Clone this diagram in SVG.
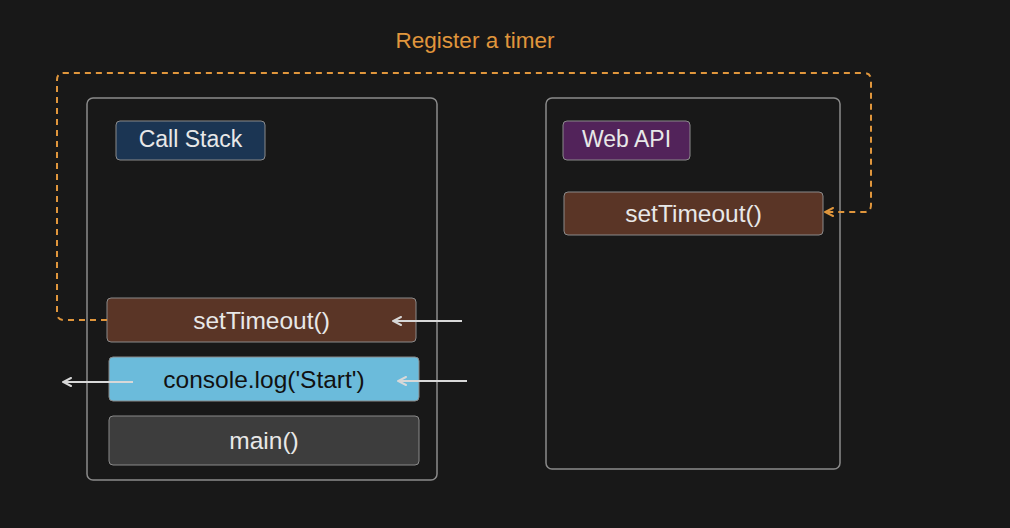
<svg xmlns="http://www.w3.org/2000/svg" width="1010" height="528" viewBox="0 0 1010 528">
<defs>
<style>
.container{fill:none;stroke:#8a8a8a;stroke-width:1.5}
.node{stroke:#8a8a8a;stroke-width:1}
.t{font-family:"Liberation Sans",Arial,sans-serif;font-size:24.5px;text-anchor:middle;dominant-baseline:central;fill:#e8e8e8}
.lbl{font-size:23px}
.dash{fill:none;stroke:#e0963c;stroke-width:2;stroke-dasharray:6 5}
.arr{fill:none;stroke:#d8d8d8;stroke-width:2}
</style>
<marker id="ah" viewBox="0 0 10 10" refX="9" refY="5" markerWidth="10" markerHeight="10" markerUnits="userSpaceOnUse" orient="auto">
<path d="M1 1 L9 5 L1 9" fill="none" stroke="#d8d8d8" stroke-width="2" stroke-linecap="round"/>
</marker>
<marker id="ao" viewBox="0 0 10 10" refX="9" refY="5" markerWidth="10" markerHeight="10" markerUnits="userSpaceOnUse" orient="auto">
<path d="M1 1 L9 5 L1 9" fill="none" stroke="#e0963c" stroke-width="2" stroke-linecap="round"/>
</marker>
</defs>
<rect width="1010" height="528" fill="#181818"/>
<g id="call-stack-container">
<rect class="container" x="87" y="98" width="350" height="382" rx="6"/>
</g>
<g id="web-api-container">
<rect class="container" x="546" y="98" width="294" height="371" rx="6"/>
</g>
<g id="call-stack-label">
<rect class="node" x="116" y="121" width="149" height="39" rx="4" fill="#1b3553"/>
<text class="t lbl" x="190.5" y="139">Call Stack</text>
</g>
<g id="web-api-label">
<rect class="node" x="563" y="121" width="127" height="39" rx="4" fill="#52235a"/>
<text class="t lbl" x="626.5" y="139">Web API</text>
</g>
<g id="webapi-settimeout">
<rect class="node" x="564" y="192" width="259" height="43" rx="4" fill="#5a3526"/>
<text class="t" x="693.5" y="213">setTimeout()</text>
</g>
<g id="stack-settimeout">
<rect class="node" x="107" y="298" width="309" height="44" rx="4" fill="#5a3526"/>
<text class="t" x="261.5" y="320">setTimeout()</text>
</g>
<g id="console-log">
<rect class="node" x="109" y="357" width="310" height="44" rx="4" fill="#6bbbdb"/>
<text class="t" x="264" y="379" style="fill:#111111">console.log('Start')</text>
</g>
<g id="main">
<rect class="node" x="109" y="416" width="310" height="49" rx="4" fill="#3d3d3d"/>
<text class="t" x="264" y="440">main()</text>
</g>
<g id="connectors">
<path class="dash" d="M107 320 H64 Q57 320 57 313 V80 Q57 73 64 73 H864 Q871 73 871 80 V205 Q871 212 864 212 H825" marker-end="url(#ao)"/>
<text x="475" y="40" style="font-family:'Liberation Sans',Arial,sans-serif;font-size:22.5px;text-anchor:middle;dominant-baseline:central;fill:#e0963c">Register a timer</text>
<line class="arr" x1="462" y1="321" x2="393" y2="321" marker-end="url(#ah)"/>
<line class="arr" x1="467" y1="381" x2="398" y2="381" marker-end="url(#ah)"/>
<line class="arr" x1="133" y1="382" x2="63" y2="382" marker-end="url(#ah)"/>
</g>
</svg>
